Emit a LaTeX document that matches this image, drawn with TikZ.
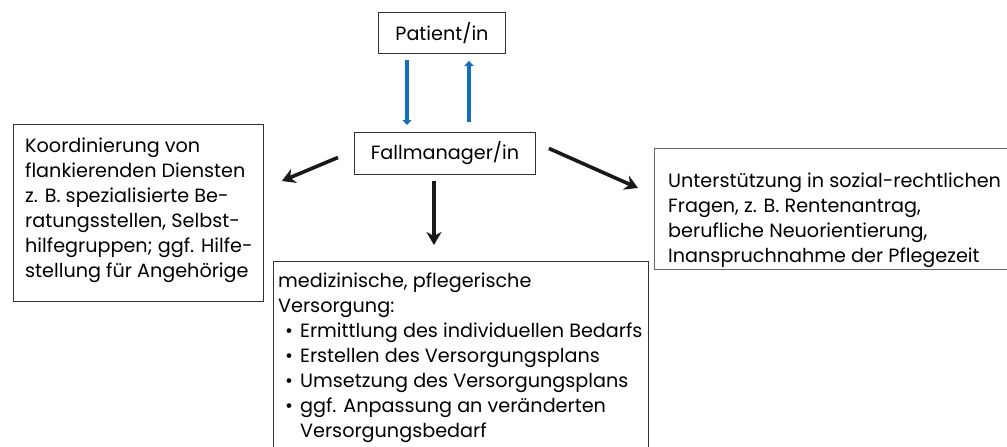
\documentclass[tikz,border=0pt]{standalone}
\usepackage{fontspec}
\setmainfont{Poppins}
\usetikzlibrary{arrows.meta,calc}

\tikzset{
  frame/.style={draw=black!80, line width=0.9pt, inner sep=0pt, anchor=north west},
  label/.style={font=\fontsize{19.2}{25}\selectfont, text=black},
  body/.style={anchor=base west, inner sep=0pt, font=\fontsize{19.2}{25}\selectfont, text=black},
  flow/.style={line width=3.6pt, black!90, -{Stealth[length=13pt,width=15pt,inset=4pt]}},
  link/.style={line width=3.3pt, draw={rgb,255:red,20;green,110;blue,190}, -{Triangle[length=5pt,width=9pt]}}
}

\begin{document}
\begin{tikzpicture}[x=1pt,y=-1pt]
\useasboundingbox (0,0) rectangle (1007,447);
\clip (0,0) rectangle (1007,447);

% top pair
\node[frame, label, minimum width=127pt, minimum height=41pt] (pat) at (378,12) {Patient/in};
\node[frame, label, minimum width=181pt, minimum height=42pt] (fm) at (354,132) {Fallmanager/in};

% surrounding fields
\node[frame, minimum width=250pt, minimum height=177pt] (left) at (13,124) {};
\node[frame, minimum width=380pt, minimum height=121pt, draw=black!60] (right) at (654,148) {};
\node[frame, minimum width=375pt, minimum height=200pt] (bottom) at (273,261) {};

\node[body] (lefttext) at (25,152) {\parbox[t]{245pt}{\raggedright
  Koordinierung von\\
  flankierenden Diensten\\
  z. B. spezialisierte Be-\\
  ratungsstellen, Selbst-\\
  hilfegruppen; ggf. Hilfe-\\
  stellung für Angehörige}};

\node[body] (righttext) at (668,187) {\parbox[t]{345pt}{\raggedright
  Unterstützung in sozial-rechtlichen\\
  Fragen, z. B. Rentenantrag,\\
  berufliche Neuorientierung,\\
  Inanspruchnahme der Pflegezeit}};

\node[body] (bottomtext) at (278,287) {\parbox[t]{380pt}{\raggedright
  medizinische, pflegerische\\
  Versorgung:\\
  \hspace*{7pt}\makebox[15pt][l]{\textbullet}Ermittlung des individuellen Bedarfs\\
  \hspace*{7pt}\makebox[15pt][l]{\textbullet}Erstellen des Versorgungsplans\\
  \hspace*{7pt}\makebox[15pt][l]{\textbullet}Umsetzung des Versorgungsplans\\
  \hspace*{7pt}\makebox[15pt][l]{\textbullet}ggf. Anpassung an veränderten\\
  \hspace*{22pt}Versorgungsbedarf}};

% arrow ends
\coordinate (pdown) at ($(pat.south west)+(29,6)$);
\coordinate (fdown) at ($(fm.north west)+(53,-7)$);
\coordinate (fup)   at ($(fm.north west)+(115,-10)$);
\coordinate (pup)   at ($(pat.south west)+(91,7)$);

\coordinate (fl) at ($(fm.west)+(-16,4)$);
\coordinate (lt) at ($(left.north east)+(18,57)$);
\coordinate (fb) at ($(fm.south)+(-11,6)$);
\coordinate (bt) at ($(bottom.north)+(-27,-16)$);
\coordinate (fr) at ($(fm.east)+(13,-5)$);
\coordinate (rt) at ($(right.north west)+(-16,40)$);

% patient <-> case manager
\draw[link] (pdown) -- (fdown);
\draw[link] (fup) -- (pup);

% case manager -> fields
\draw[flow] (fl) -- (lt);
\draw[flow] (fb) -- (bt);
\draw[flow] (fr) -- (rt);
\end{tikzpicture}
\end{document}
